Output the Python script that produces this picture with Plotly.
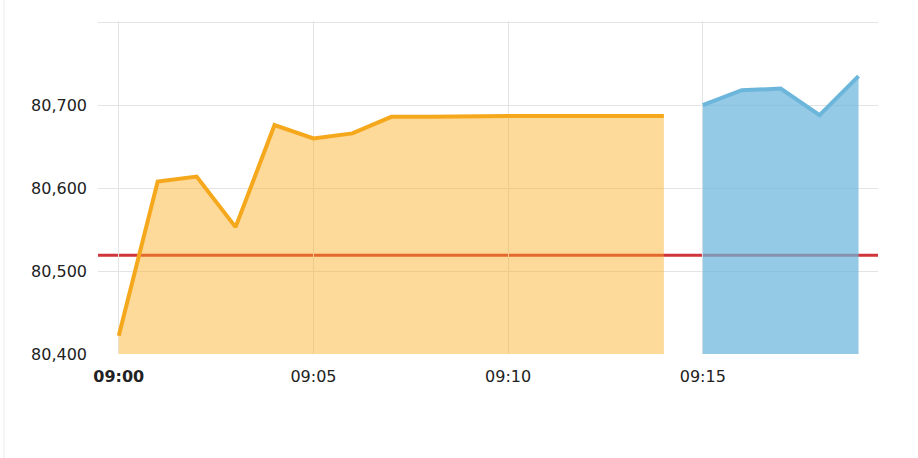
"""Intraday price chart: morning session (orange) and next block (blue) vs base line."""
import plotly.graph_objects as go

DAY = "2024-01-05 "

SESSION1_TIMES = ["09:00", "09:01", "09:02", "09:03", "09:04", "09:05", "09:06", "09:07",
                  "09:08", "09:09", "09:10", "09:11", "09:12", "09:13", "09:14"]
SESSION1_PRICE = [80422, 80608, 80614, 80553, 80676, 80660, 80666, 80686,
                  80686, 80687, 80687, 80687, 80687, 80687, 80687]

SESSION2_TIMES = ["09:15", "09:16", "09:17", "09:18", "09:19"]
SESSION2_PRICE = [80700, 80718, 80720, 80688, 80735]

BASE_PRICE = 80519

X_TICKS = ["09:00", "09:05", "09:10", "09:15"]
X_TICK_TEXT = ["<b>09:00</b>", "09:05", "09:10", "09:15"]
Y_TICKS = [80400, 80500, 80600, 80700, 80800]
Y_TICK_TEXT = ["80,400", "80,500", "80,600", "80,700", ""]

FONT = "DejaVu Sans, Verdana, sans-serif"

fig = go.Figure()

fig.add_trace(go.Scatter(
    x=[DAY + t for t in SESSION1_TIMES], y=SESSION1_PRICE,
    mode="lines", line=dict(color="#f5a81c", width=4),
    fill="tozeroy", fillcolor="rgba(250,170,30,0.45)",
))
fig.add_trace(go.Scatter(
    x=[DAY + t for t in SESSION2_TIMES], y=SESSION2_PRICE,
    mode="lines", line=dict(color="#6cb6dc", width=4),
    fill="tozeroy", fillcolor="rgba(107,181,219,0.72)",
))

fig.add_shape(type="line", xref="paper", x0=0, x1=1, yref="y",
              y0=BASE_PRICE, y1=BASE_PRICE, layer="between",
              line=dict(color="#d0353a", width=3))
# faint container border on the left
fig.add_shape(type="line", xref="paper", x0=-0.1205, x1=-0.1205, yref="paper",
              y0=-0.32, y1=1.07, line=dict(color="#ececec", width=1))

fig.update_layout(
    width=918, height=458,
    paper_bgcolor="white", plot_bgcolor="white",
    font=dict(family=FONT, size=16, color="#222"),
    margin=dict(l=98, r=40, t=21, b=104),
    showlegend=False,
)
fig.update_xaxes(
    type="date",
    range=[DAY + "08:59:28", DAY + "09:19:30"],
    tickvals=[DAY + t for t in X_TICKS], ticktext=X_TICK_TEXT,
    showgrid=True, gridcolor="#e4e4e4", gridwidth=1,
    zeroline=False, showline=False, ticks="", ticklabelstandoff=11,
    tickfont=dict(size=16),
)
fig.update_yaxes(
    range=[80400, 80801.5],
    tickvals=Y_TICKS, ticktext=Y_TICK_TEXT,
    showgrid=True, gridcolor="#e4e4e4", gridwidth=1,
    zeroline=False, showline=False, ticks="", ticklabelstandoff=10,
)

# drop the default page margin so the figure sits at the window origin
fig.write_html("out.html", config={"displayModeBar": False},
               post_script="document.body.style.margin='0';")
